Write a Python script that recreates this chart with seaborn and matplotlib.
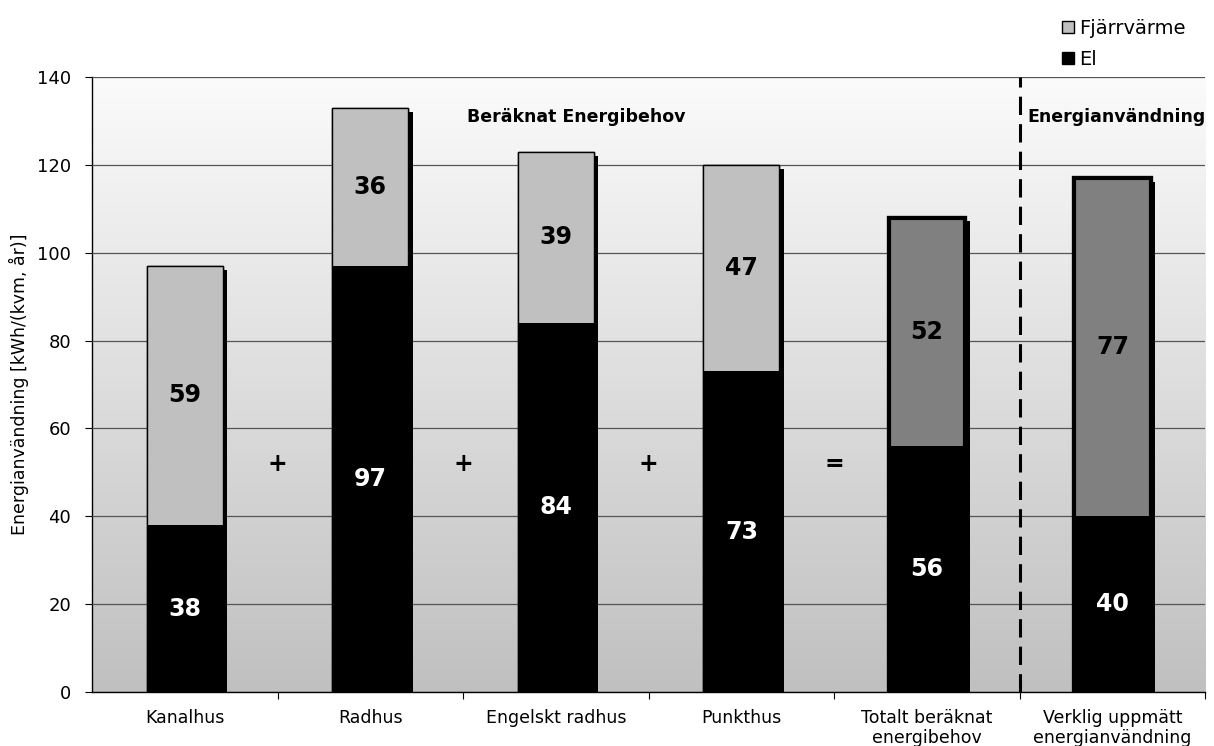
import numpy as np
import matplotlib
matplotlib.use("Agg")
import matplotlib.pyplot as plt
import matplotlib.patheffects as pe
from matplotlib.lines import Line2D
import seaborn as sns

# Data
categories = ["Kanalhus", "Radhus", "Engelskt radhus", "Punkthus",
              "Totalt beräknat\nenergibehov", "Verklig uppmätt\nenergianvändning"]
el = [38, 97, 84, 73, 56, 40]
fjarrvarme = [59, 36, 39, 47, 52, 77]
totals = [a + b for a, b in zip(el, fjarrvarme)]
operators = ["+", "+", "+", "="]

sns.set_style("white")
plt.rcParams['font.family'] = ['DejaVu Sans']
plt.rcParams.update({"text.color": "black", "axes.labelcolor": "black",
                     "xtick.color": "black", "ytick.color": "black"})

fig = plt.figure(figsize=(12.14, 7.46), dpi=100)
ax = fig.add_axes([0.0758, 0.0724, 0.917, 0.8244])

# gradient background
grad = np.linspace(0, 1, 256).reshape(-1, 1)
ax.imshow(grad, extent=(-0.5, 5.5, 0, 140), aspect="auto", origin="lower",
          cmap=matplotlib.colors.LinearSegmentedColormap.from_list("bg", ["#c0c0c0", "#fbfbfb"]),
          zorder=0)

shadow = [pe.withSimplePatchShadow(offset=(3.3, -2.8), shadow_rgbFace="black", alpha=1.0), pe.Normal()]

# total (Fjärrvärme on top) then El in front
sns.barplot(x=categories, y=totals, color="#c0c0c0", width=0.41, saturation=1,
            edgecolor="black", linewidth=1, ax=ax, zorder=3)
sns.barplot(x=categories, y=el, color="black", width=0.41, saturation=1,
            linewidth=0, ax=ax, zorder=4)

for i, p in enumerate(ax.patches[:6]):
    p.set_path_effects(shadow)
    if i >= 4:
        p.set_facecolor("#808080")
        p.set_linewidth(3)

# value labels
for i in range(6):
    ax.text(i, el[i] / 2, str(el[i]), ha="center", va="center", color="white",
            fontsize=17, fontweight="bold", zorder=6)
    ax.text(i, el[i] + fjarrvarme[i] / 2, str(fjarrvarme[i]), ha="center", va="center",
            color="black", fontsize=17, fontweight="bold", zorder=6)

for i, op in enumerate(operators):
    ax.text(i + 0.5, 52, op, ha="center", va="center", fontsize=17, fontweight="bold", zorder=6)

ax.axvline(4.5, color="black", lw=2.2, ls=(0, (6, 3)), zorder=5)
ax.text(2.11, 131, "Beräknat Energibehov", ha="center", va="center", fontsize=12.5,
        fontweight="bold", zorder=6)
ax.text(4.54, 131, "Energianvändning", ha="left", va="center", fontsize=12.5,
        fontweight="bold", zorder=6, clip_on=False)

ax.set_xlim(-0.5, 5.5)
ax.set_ylim(0, 140)
ax.set_yticks(range(0, 141, 20))
ax.yaxis.grid(True, color="#555555", lw=0.9)
ax.set_axisbelow(False)
for gl in ax.get_ygridlines():
    gl.set_zorder(1)

# category boundary ticks, labels at centres
ax.set_xticks(np.arange(0.5, 5.6, 1))
ax.set_xticklabels([])
ax.set_xticks(range(6), minor=True)
ax.set_xticklabels(categories, minor=True, fontsize=12.5)
ax.tick_params(axis="x", which="major", direction="out", length=5, color="black", bottom=True)
ax.tick_params(axis="x", which="minor", length=0, pad=12)
ax.tick_params(axis="y", direction="out", length=5, color="black", left=True, labelsize=13, pad=10)
ax.set_xlabel("")
ax.set_ylabel("Energianvändning [kWh/(kvm, år)]", fontsize=12.5, labelpad=6)

for s in ["top", "right"]:
    ax.spines[s].set_visible(False)
for s in ["left", "bottom"]:
    ax.spines[s].set_color("black")
    ax.spines[s].set_linewidth(1)

handles = [
    Line2D([], [], ls="", marker="s", markersize=8, markerfacecolor="#c0c0c0", markeredgecolor="black"),
    Line2D([], [], ls="", marker="s", markersize=8, markerfacecolor="black", markeredgecolor="black"),
]
fig.legend(handles, ["Fjärrvärme", "El"], loc="upper left", bbox_to_anchor=(0.862, 0.995),
           frameon=False, fontsize=14, handlelength=0.6, handletextpad=0.3, labelspacing=0.6,
           borderpad=0.3)

fig.savefig("out.png", dpi=100)
